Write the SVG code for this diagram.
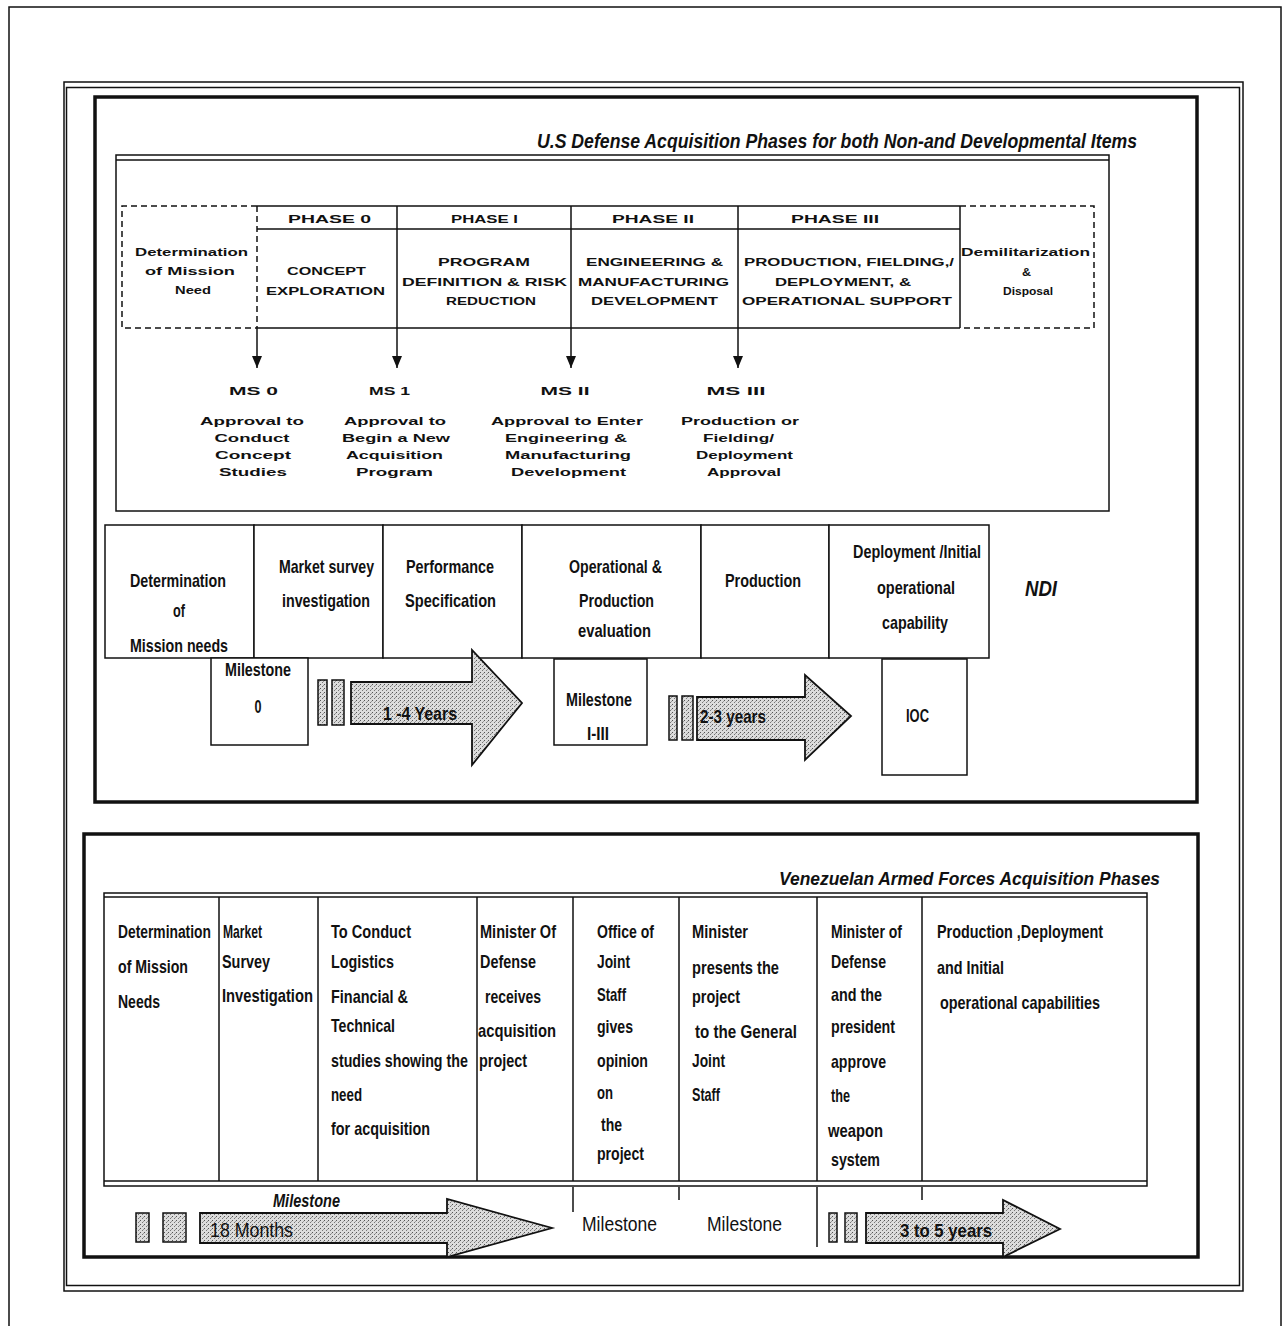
<svg xmlns="http://www.w3.org/2000/svg" width="1283" height="1326" viewBox="0 0 1283 1326">
<style>
.ln{fill:none;stroke:#111;stroke-width:1.5}
.thk{fill:none;stroke:#111;stroke-width:3.5}
.dash{fill:none;stroke:#111;stroke-width:1.5;stroke-dasharray:6,4}
.box{fill:#fff;stroke:#111;stroke-width:1.5}
.ph{font-family:'Liberation Sans',Arial,sans-serif;font-weight:bold;font-size:11.5px;text-anchor:middle;fill:#111}
.cd{font-family:'Liberation Sans',Arial,sans-serif;font-weight:bold;font-size:19px;fill:#111}
.cdm{font-family:'Liberation Sans',Arial,sans-serif;font-weight:bold;font-size:19px;fill:#111;text-anchor:middle}
.it{font-family:'Liberation Sans',Arial,sans-serif;font-weight:bold;font-style:italic;fill:#111}
.rg{font-family:'Liberation Sans',Arial,sans-serif;font-size:20px;fill:#111}
.arr{fill:url(#stip);stroke:#111;stroke-width:1.8}
.bar{fill:url(#stip);stroke:#111;stroke-width:1.5}
</style>
<defs>
<pattern id="stip" width="4" height="4" patternUnits="userSpaceOnUse">
<rect width="4" height="4" fill="#dcdcdc"/>
<rect x="0" y="0" width="1" height="1" fill="#555"/>
<rect x="2" y="2" width="1" height="1" fill="#777"/>
<rect x="3" y="1" width="1" height="1" fill="#999"/>
</pattern>
<marker id="ah" markerWidth="12" markerHeight="10" refX="12" refY="5" orient="auto" markerUnits="userSpaceOnUse" viewBox="0 0 12 10">
<path d="M0,0 L12,5 L0,10 Z" fill="#111"/>
</marker>
</defs>
<rect width="1283" height="1326" fill="#fff"/>

<g id="frames">
<rect class="ln" x="9" y="7" width="1272" height="1340"/>
<rect class="ln" x="64" y="82" width="1179" height="1209" stroke-width="1.2"/>
<rect class="ln" x="66.5" y="87.5" width="1173" height="1198" stroke-width="1"/>
<rect class="thk" x="95" y="97" width="1102" height="705"/>
<rect class="thk" x="84" y="834" width="1114" height="423"/>
<rect class="ln" x="116" y="155" width="993" height="356"/>
<line class="ln" x1="116" y1="160" x2="1109" y2="160" stroke-width="1"/>
</g>

<g id="titles">
<text class="it" x="537" y="148" font-size="20" textLength="600" lengthAdjust="spacingAndGlyphs">U.S Defense Acquisition Phases for both  Non-and  Developmental Items</text>
<text class="it" x="779" y="885" font-size="19" textLength="381" lengthAdjust="spacingAndGlyphs">Venezuelan Armed Forces Acquisition Phases</text>
</g>

<g id="phase-table">
<path class="dash" d="M257,206 H122 V328 H257"/>
<path class="dash" d="M960,206 H1094 V328 H960"/>
<path class="dash" d="M257,206 V328"/>
<path class="ln" d="M257,206 H960 M257,229 H960 M257,328 H960 M397,206 V328 M571,206 V328"/>
<path class="ln" d="M738,206 V328 M960,206 V328" stroke-width="2.2"/>
</g>

<g id="phase-need">
<text class="ph" x="191.5" y="256" textLength="113" lengthAdjust="spacingAndGlyphs">Determination</text>
<text class="ph" x="190" y="275" textLength="90" lengthAdjust="spacingAndGlyphs">of Mission</text>
<text class="ph" x="193" y="294" textLength="36" lengthAdjust="spacingAndGlyphs">Need</text>
</g>
<g id="phase-0">
<text class="ph" x="329.5" y="223" textLength="83" lengthAdjust="spacingAndGlyphs">PHASE 0</text>
<text class="ph" x="326.5" y="275" textLength="79" lengthAdjust="spacingAndGlyphs">CONCEPT</text>
<text class="ph" x="325.5" y="295" textLength="119" lengthAdjust="spacingAndGlyphs">EXPLORATION</text>
</g>
<g id="phase-1">
<text class="ph" x="484.5" y="223" textLength="67" lengthAdjust="spacingAndGlyphs">PHASE I</text>
<text class="ph" x="484" y="266" textLength="92" lengthAdjust="spacingAndGlyphs">PROGRAM</text>
<text class="ph" x="484.5" y="286" textLength="165" lengthAdjust="spacingAndGlyphs">DEFINITION &amp; RISK</text>
<text class="ph" x="491" y="305" textLength="90" lengthAdjust="spacingAndGlyphs">REDUCTION</text>
</g>
<g id="phase-2">
<text class="ph" x="653" y="223" textLength="82" lengthAdjust="spacingAndGlyphs">PHASE II</text>
<text class="ph" x="654.5" y="266" textLength="137" lengthAdjust="spacingAndGlyphs">ENGINEERING &amp;</text>
<text class="ph" x="653.5" y="286" textLength="151" lengthAdjust="spacingAndGlyphs">MANUFACTURING</text>
<text class="ph" x="654.5" y="305" textLength="127" lengthAdjust="spacingAndGlyphs">DEVELOPMENT</text>
</g>
<g id="phase-3">
<text class="ph" x="835" y="223" textLength="88" lengthAdjust="spacingAndGlyphs">PHASE III</text>
<text class="ph" x="849" y="266" textLength="210" lengthAdjust="spacingAndGlyphs">PRODUCTION, FIELDING,/</text>
<text class="ph" x="843" y="286" textLength="136" lengthAdjust="spacingAndGlyphs">DEPLOYMENT, &amp;</text>
<text class="ph" x="847" y="305" textLength="210" lengthAdjust="spacingAndGlyphs">OPERATIONAL SUPPORT</text>
</g>
<g id="phase-disposal">
<text class="ph" x="1025.5" y="256" textLength="129" lengthAdjust="spacingAndGlyphs">Demilitarization</text>
<text class="ph" x="1026.5" y="276" textLength="9" lengthAdjust="spacingAndGlyphs">&amp;</text>
<text class="ph" x="1028" y="295" textLength="50" lengthAdjust="spacingAndGlyphs">Disposal</text>
</g>

<g id="connectors">
<line class="ln" x1="257" y1="328" x2="257" y2="368" marker-end="url(#ah)"/>
<line class="ln" x1="397" y1="328" x2="397" y2="368" marker-end="url(#ah)"/>
<line class="ln" x1="571" y1="328" x2="571" y2="368" marker-end="url(#ah)"/>
<line class="ln" x1="738" y1="328" x2="738" y2="368" stroke-width="2.2" marker-end="url(#ah)"/>
<line class="ln" x1="573" y1="1187" x2="573" y2="1212"/>
<line class="ln" x1="679" y1="1187" x2="679" y2="1200"/>
<line class="ln" x1="817" y1="1187" x2="817" y2="1247"/>
<line class="ln" x1="922" y1="1187" x2="922" y2="1200"/>
</g>

<g id="ms-0">
<text class="ph" x="253.5" y="395" textLength="49" lengthAdjust="spacingAndGlyphs">MS 0</text>
<text class="ph" x="252" y="425" textLength="104" lengthAdjust="spacingAndGlyphs">Approval to</text>
<text class="ph" x="252" y="442" textLength="75" lengthAdjust="spacingAndGlyphs">Conduct</text>
<text class="ph" x="253" y="459" textLength="76" lengthAdjust="spacingAndGlyphs">Concept</text>
<text class="ph" x="253" y="476" textLength="68" lengthAdjust="spacingAndGlyphs">Studies</text>
</g>
<g id="ms-1">
<text class="ph" x="389.5" y="395" textLength="41" lengthAdjust="spacingAndGlyphs">MS 1</text>
<text class="ph" x="395" y="425" textLength="102" lengthAdjust="spacingAndGlyphs">Approval to</text>
<text class="ph" x="396" y="442" textLength="108" lengthAdjust="spacingAndGlyphs">Begin a New</text>
<text class="ph" x="394.5" y="459" textLength="97" lengthAdjust="spacingAndGlyphs">Acquisition</text>
<text class="ph" x="394.5" y="476" textLength="77" lengthAdjust="spacingAndGlyphs">Program</text>
</g>
<g id="ms-2">
<text class="ph" x="565" y="395" textLength="49" lengthAdjust="spacingAndGlyphs">MS II</text>
<text class="ph" x="567" y="425" textLength="152" lengthAdjust="spacingAndGlyphs">Approval to Enter</text>
<text class="ph" x="566" y="442" textLength="122" lengthAdjust="spacingAndGlyphs">Engineering &amp;</text>
<text class="ph" x="568" y="459" textLength="126" lengthAdjust="spacingAndGlyphs">Manufacturing</text>
<text class="ph" x="568.5" y="476" textLength="115" lengthAdjust="spacingAndGlyphs">Development</text>
</g>
<g id="ms-3">
<text class="ph" x="736" y="395" textLength="59" lengthAdjust="spacingAndGlyphs">MS III</text>
<text class="ph" x="740" y="425" textLength="118" lengthAdjust="spacingAndGlyphs">Production or</text>
<text class="ph" x="738.5" y="442" textLength="71" lengthAdjust="spacingAndGlyphs">Fielding/</text>
<text class="ph" x="744.5" y="459" textLength="97" lengthAdjust="spacingAndGlyphs">Deployment</text>
<text class="ph" x="744" y="476" textLength="74" lengthAdjust="spacingAndGlyphs">Approval</text>
</g>

<g id="ndi-mission">
<rect class="box" x="105" y="525" width="149" height="133"/>
<text class="cdm" x="178" y="587" textLength="96" lengthAdjust="spacingAndGlyphs">Determination</text>
<text class="cdm" x="179" y="617" textLength="12" lengthAdjust="spacingAndGlyphs">of</text>
<text class="cdm" x="179" y="652" textLength="98" lengthAdjust="spacingAndGlyphs">Mission needs</text>
</g>
<g id="ndi-market">
<rect class="box" x="254" y="525" width="129" height="133"/>
<text class="cdm" x="326.5" y="573" textLength="95" lengthAdjust="spacingAndGlyphs">Market survey</text>
<text class="cdm" x="326" y="607" textLength="88" lengthAdjust="spacingAndGlyphs">investigation</text>
</g>
<g id="ndi-performance">
<rect class="box" x="383" y="525" width="139" height="133"/>
<text class="cdm" x="450" y="573" textLength="88" lengthAdjust="spacingAndGlyphs">Performance</text>
<text class="cdm" x="450.5" y="607" textLength="91" lengthAdjust="spacingAndGlyphs">Specification</text>
</g>
<g id="ndi-evaluation">
<rect class="box" x="522" y="525" width="179" height="133"/>
<text class="cdm" x="615.5" y="573" textLength="93" lengthAdjust="spacingAndGlyphs">Operational &amp;</text>
<text class="cdm" x="616.5" y="607" textLength="75" lengthAdjust="spacingAndGlyphs">Production</text>
<text class="cdm" x="614.5" y="637" textLength="73" lengthAdjust="spacingAndGlyphs">evaluation</text>
</g>
<g id="ndi-production">
<rect class="box" x="701" y="525" width="128" height="133"/>
<text class="cdm" x="763" y="587" textLength="76" lengthAdjust="spacingAndGlyphs">Production</text>
</g>
<g id="ndi-deployment">
<rect class="box" x="829" y="525" width="160" height="133"/>
<text class="cdm" x="917" y="558" textLength="128" lengthAdjust="spacingAndGlyphs">Deployment /Initial</text>
<text class="cdm" x="916" y="594" textLength="78" lengthAdjust="spacingAndGlyphs">operational</text>
<text class="cdm" x="915" y="629" textLength="66" lengthAdjust="spacingAndGlyphs">capability</text>
</g>
<g id="ndi-label">
<text class="it" x="1025" y="596" font-size="22" textLength="32" lengthAdjust="spacingAndGlyphs">NDI</text>
</g>

<g id="milestone-0">
<rect class="box" x="211" y="658" width="97" height="87"/>
<text class="cdm" x="258" y="676" textLength="66" lengthAdjust="spacingAndGlyphs">Milestone</text>
<text class="cdm" x="258" y="713" textLength="7" lengthAdjust="spacingAndGlyphs">0</text>
</g>
<g id="span-1-4">
<rect class="bar" x="318" y="680" width="9" height="45"/>
<rect class="bar" x="332" y="680" width="12" height="45"/>
<polygon class="arr" points="351,682 472,682 472,650 522,703 472,765 472,724 351,724"/>
<text class="cdm" x="420" y="720" textLength="74" lengthAdjust="spacingAndGlyphs">1 -4 Years</text>
</g>
<g id="milestone-1-3">
<rect class="box" x="554" y="659" width="93" height="86"/>
<text class="cdm" x="599" y="706" textLength="66" lengthAdjust="spacingAndGlyphs">Milestone</text>
<text class="cdm" x="598" y="740" textLength="22" lengthAdjust="spacingAndGlyphs">I-III</text>
</g>
<g id="span-2-3">
<rect class="bar" x="669" y="696" width="8" height="44"/>
<rect class="bar" x="682" y="696" width="11" height="44"/>
<polygon class="arr" points="697,697 805,697 805,675 851,716 805,760 805,740 697,740"/>
<text class="cd" x="700" y="723" textLength="66" lengthAdjust="spacingAndGlyphs">2-3 years</text>
</g>
<g id="ioc">
<rect class="box" x="882" y="659" width="85" height="116"/>
<text class="cdm" x="917.5" y="722" textLength="23" lengthAdjust="spacingAndGlyphs">IOC</text>
</g>

<g id="ven-table">
<rect class="ln" x="104" y="893" width="1043" height="293" stroke-width="2.2"/>
<line class="ln" x1="104" y1="897" x2="1147" y2="897" stroke-width="1"/>
<line class="ln" x1="104" y1="1181" x2="1147" y2="1181" stroke-width="1"/>
<path class="ln" d="M219,897 V1181 M318,897 V1181 M477,897 V1181 M573,897 V1181 M679,897 V1181 M817,897 V1181 M922,897 V1181"/>
</g>

<g id="ven-mission">
<text class="cd" transform="translate(118,938) scale(0.728,1)" x="0" y="0">Determination</text>
<text class="cd" x="118" y="973" textLength="70" lengthAdjust="spacingAndGlyphs">of Mission</text>
<text class="cd" x="118" y="1008" textLength="42" lengthAdjust="spacingAndGlyphs">Needs</text>
</g>
<g id="ven-market">
<text class="cd" x="223" y="938" textLength="39" lengthAdjust="spacingAndGlyphs">Market</text>
<text class="cd" x="222" y="968" textLength="48" lengthAdjust="spacingAndGlyphs">Survey</text>
<text class="cd" x="222" y="1002" textLength="91" lengthAdjust="spacingAndGlyphs">Investigation</text>
</g>
<g id="ven-studies">
<text class="cd" x="331" y="938" textLength="80" lengthAdjust="spacingAndGlyphs">To Conduct</text>
<text class="cd" x="331" y="968" textLength="63" lengthAdjust="spacingAndGlyphs">Logistics</text>
<text class="cd" x="331" y="1003" textLength="77" lengthAdjust="spacingAndGlyphs">Financial &amp;</text>
<text class="cd" x="331" y="1032" textLength="64" lengthAdjust="spacingAndGlyphs">Technical</text>
<text class="cd" transform="translate(331,1067) scale(0.75,1)" x="0" y="0">studies showing the</text>
<text class="cd" x="331" y="1101" textLength="31" lengthAdjust="spacingAndGlyphs">need</text>
<text class="cd" x="331" y="1135" textLength="99" lengthAdjust="spacingAndGlyphs">for acquisition</text>
</g>
<g id="ven-minister-receives">
<text class="cd" x="480" y="938" textLength="76" lengthAdjust="spacingAndGlyphs">Minister Of</text>
<text class="cd" x="480" y="968" textLength="56" lengthAdjust="spacingAndGlyphs">Defense</text>
<text class="cd" x="485" y="1003" textLength="56" lengthAdjust="spacingAndGlyphs">receives</text>
<text class="cd" x="478" y="1037" textLength="78" lengthAdjust="spacingAndGlyphs">acquisition</text>
<text class="cd" x="479" y="1067" textLength="48" lengthAdjust="spacingAndGlyphs">project</text>
</g>
<g id="ven-joint-staff">
<text class="cd" x="597" y="938" textLength="57" lengthAdjust="spacingAndGlyphs">Office of</text>
<text class="cd" x="597" y="968" textLength="33" lengthAdjust="spacingAndGlyphs">Joint</text>
<text class="cd" x="597" y="1001" textLength="29" lengthAdjust="spacingAndGlyphs">Staff</text>
<text class="cd" x="597" y="1033" textLength="36" lengthAdjust="spacingAndGlyphs">gives</text>
<text class="cd" x="597" y="1067" textLength="51" lengthAdjust="spacingAndGlyphs">opinion</text>
<text class="cd" x="597" y="1099" textLength="16" lengthAdjust="spacingAndGlyphs">on</text>
<text class="cd" x="601" y="1131" textLength="21" lengthAdjust="spacingAndGlyphs">the</text>
<text class="cd" x="597" y="1160" textLength="47" lengthAdjust="spacingAndGlyphs">project</text>
</g>
<g id="ven-minister-presents">
<text class="cd" x="692" y="938" textLength="56" lengthAdjust="spacingAndGlyphs">Minister</text>
<text class="cd" x="692" y="974" textLength="87" lengthAdjust="spacingAndGlyphs">presents the</text>
<text class="cd" x="692" y="1003" textLength="48" lengthAdjust="spacingAndGlyphs">project</text>
<text class="cd" x="695" y="1038" textLength="102" lengthAdjust="spacingAndGlyphs">to  the General</text>
<text class="cd" x="692" y="1067" textLength="33" lengthAdjust="spacingAndGlyphs">Joint</text>
<text class="cd" x="692" y="1101" textLength="28" lengthAdjust="spacingAndGlyphs">Staff</text>
</g>
<g id="ven-approve">
<text class="cd" x="831" y="938" textLength="71" lengthAdjust="spacingAndGlyphs">Minister of</text>
<text class="cd" x="831" y="968" textLength="55" lengthAdjust="spacingAndGlyphs">Defense</text>
<text class="cd" x="831" y="1001" textLength="51" lengthAdjust="spacingAndGlyphs">and the</text>
<text class="cd" x="831" y="1033" textLength="64" lengthAdjust="spacingAndGlyphs">president</text>
<text class="cd" x="831" y="1068" textLength="55" lengthAdjust="spacingAndGlyphs">approve</text>
<text class="cd" x="831" y="1102" textLength="19" lengthAdjust="spacingAndGlyphs">the</text>
<text class="cd" x="828" y="1137" textLength="55" lengthAdjust="spacingAndGlyphs">weapon</text>
<text class="cd" x="831" y="1166" textLength="49" lengthAdjust="spacingAndGlyphs">system</text>
</g>
<g id="ven-production">
<text class="cd" x="937" y="938" textLength="166" lengthAdjust="spacingAndGlyphs">Production ,Deployment</text>
<text class="cd" x="937" y="974" textLength="67" lengthAdjust="spacingAndGlyphs">and Initial</text>
<text class="cd" x="940" y="1009" textLength="160" lengthAdjust="spacingAndGlyphs">operational capabilities</text>
</g>

<g id="ven-span-18">
<rect class="bar" x="136" y="1213" width="13" height="29"/>
<rect class="bar" x="163" y="1213" width="23" height="29"/>
<polygon class="arr" points="200,1213 447,1213 447,1199 552,1228 447,1257 447,1243 200,1243"/>
<text class="it" x="273" y="1207" font-size="19" textLength="67" lengthAdjust="spacingAndGlyphs">Milestone</text>
<text class="rg" x="210" y="1237" textLength="83" lengthAdjust="spacingAndGlyphs">18 Months</text>
</g>
<g id="ven-milestone-1">
<text class="rg" x="582" y="1231" textLength="75" lengthAdjust="spacingAndGlyphs">Milestone</text>
</g>
<g id="ven-milestone-2">
<text class="rg" x="707" y="1231" textLength="75" lengthAdjust="spacingAndGlyphs">Milestone</text>
</g>
<g id="ven-span-3-5">
<rect class="bar" x="829" y="1213" width="8" height="29"/>
<rect class="bar" x="845" y="1213" width="12" height="29"/>
<polygon class="arr" points="866,1213 1003,1213 1003,1200 1060,1229 1003,1257 1003,1243 866,1243"/>
<text class="cd" x="900" y="1237" textLength="92" lengthAdjust="spacingAndGlyphs">3 to 5 years</text>
</g>
</svg>
